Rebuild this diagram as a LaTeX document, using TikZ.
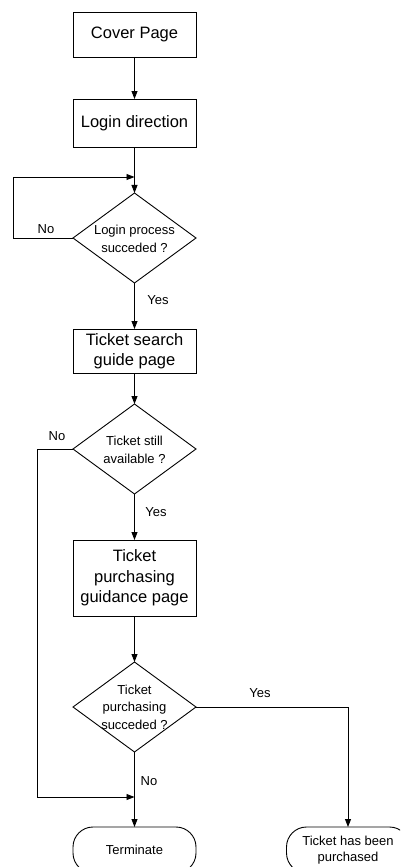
\documentclass[tikz,border=0pt]{standalone}
\usepackage{fontspec}
\setmainfont{Liberation Sans}
\usetikzlibrary{shapes.geometric,arrows.meta}
\begin{document}
\begin{tikzpicture}[x=1pt,y=-1pt,
  every node/.style={inner sep=0pt, outer sep=0pt},
  box/.style={draw, line width=0.9pt, minimum width=123pt, align=center,
     font=\fontsize{16.5}{20.5}\selectfont},
  dia/.style={draw, diamond, line width=0.9pt, minimum width=123pt, minimum height=90pt},
  dtext/.style={align=center, font=\fontsize{13}{17.5}\selectfont},
  term/.style={draw, line width=0.9pt, rounded corners=20pt, minimum width=123pt,
     minimum height=46pt, align=center, font=\fontsize{13}{16}\selectfont},
  lbl/.style={font=\fontsize{13}{15}\selectfont},
  arr/.style={line width=0.9pt, -{Triangle[length=8pt,width=6pt]}},
  ln/.style={line width=0.9pt}]
\useasboundingbox (0,0) rectangle (400,867);
\clip (0,0) rectangle (400,867);
\fill[white] (0,0) rectangle (400,867);

\node[box, minimum height=45pt] (cover) at (134.5,34.5) {Cover Page};
\node[box, minimum height=48pt] (login) at (134.5,123) {Login direction};
\node[dia] (d1) at (134.5,238) {};
\node[dtext] (d1t) at (134.5,239) {Login process\\succeded ?};
\node[box, minimum height=44pt] (search) at (134.5,351) {Ticket search\\guide page};
\node[dia] (d2) at (134.5,449) {};
\node[dtext] (d2t) at (134.5,450) {Ticket still\\available ?};
\node[box, minimum height=76pt] (purch) at (134.5,578) {Ticket\\purchasing\\guidance page};
\node[dia] (d3) at (134.5,707) {};
\node[dtext] (d3t) at (134.5,707) {Ticket\\purchasing\\succeded ?};
\node[term] (fin) at (134.5,850) {Terminate};
\node[term] (bought) at (348,850) {Ticket has been\\purchased};

\coordinate (loopin) at (134.5,177);
\coordinate (noin) at (134.5,797);

\draw[arr] (cover) -- (login);
\draw[arr] (login) -- (d1);
\draw[arr] (d1.west) -- (13,238) |- (loopin);
\draw[arr] (d1) -- (search);
\draw[arr] (search) -- (d2);
\draw[arr] (d2.west) -- (37,449) |- (noin);
\draw[arr] (d2) -- (purch);
\draw[arr] (purch) -- (d3);
\draw[arr] (d3) -- (fin);
\draw[arr] (d3.east) -| (bought.north);

\node[lbl] (no1) at (46,229) {No};
\node[lbl] (yes1) at (158,300) {Yes};
\node[lbl] (no2) at (57,436) {No};
\node[lbl] (yes2) at (156,512) {Yes};
\node[lbl] (yes3) at (260,693) {Yes};
\node[lbl] (no3) at (149,781) {No};
\end{tikzpicture}
\end{document}
